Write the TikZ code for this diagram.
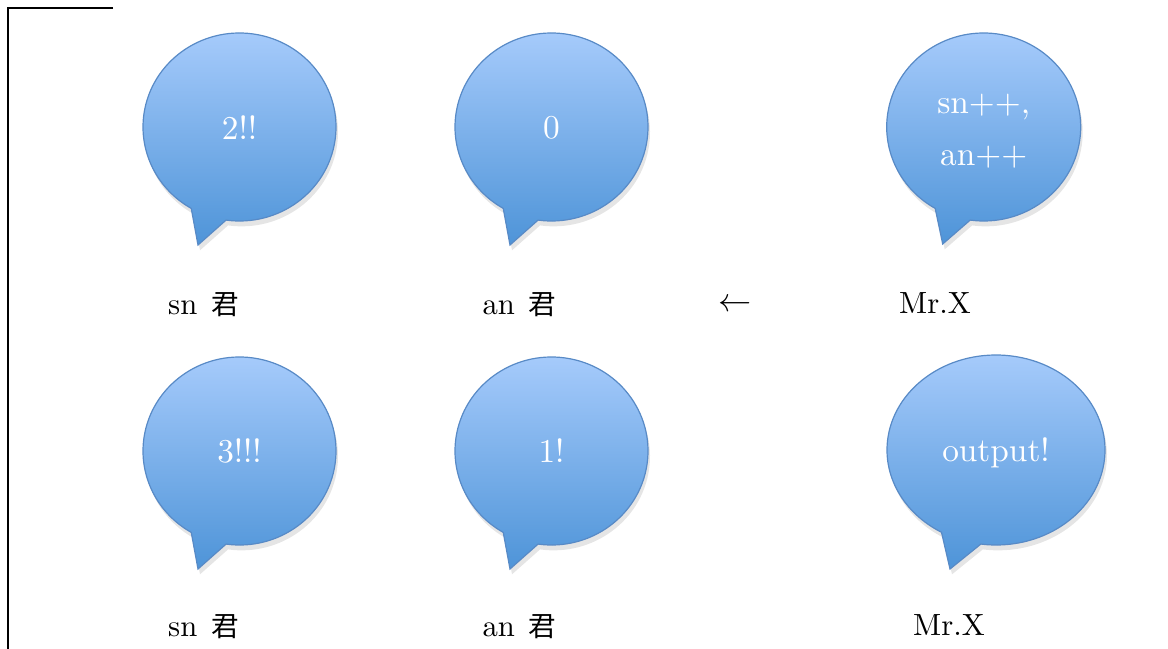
\documentclass[tikz,border=0pt]{standalone}
\usepackage{fontspec}
\setmainfont{lmroman10-regular}[Extension=.otf]
\newfontfamily\cjk{Noto Sans CJK JP}[Scale=0.9]
\definecolor{btop}{RGB}{168,204,252}
\definecolor{bbot}{RGB}{78,148,216}
\definecolor{bline}{RGB}{88,138,198}
\tikzset{
  bubblestyle/.style={top color=btop,bottom color=bbot,draw=bline,line width=0.9pt},
  bshadow/.style={fill=black,opacity=0.10},
  btext/.style={text=white,font=\fontsize{25}{39}\selectfont,align=center,inner sep=0pt},
  lbl/.style={text=black,font=\fontsize{23}{28}\selectfont,inner sep=0pt},
  frame/.style={draw=black,line width=1.3pt}
}
\newcommand\mybubble[6]{%
  \fill[bshadow,xshift=1.5pt,yshift=-4pt] (#1,#2) ++(262:#3 and #4)
    arc[start angle=262,end angle=600,x radius=#3,y radius=#4]
    -- ({#1+#5},{#2+#6}) -- cycle;
  \shadedraw[bubblestyle] (#1,#2) ++(262:#3 and #4)
    arc[start angle=262,end angle=600,x radius=#3,y radius=#4]
    -- ({#1+#5},{#2+#6}) -- cycle;}
\newcommand\kun{\hspace{0.45em}{\cjk 君}}
\begin{document}
\begin{tikzpicture}[x=0.75pt,y=0.75pt]
\useasboundingbox (0,0) rectangle (1168,-649);
% frame lines
\draw[frame] (113,-8) -- (8,-8) -- (8,-649);
% bubbles
\mybubble{239.5}{-127}{96.5}{94}{-41.5}{-118}
\mybubble{551.5}{-127}{96.5}{94}{-41.5}{-118}
\mybubble{983.7}{-127}{97}{94}{-41}{-117}
\mybubble{239.5}{-451}{96.5}{94}{-41.5}{-118}
\mybubble{551.5}{-451}{96.5}{94}{-41.5}{-118}
\mybubble{996}{-450}{109}{95}{-46}{-119}
% bubble texts
\node[btext] (t1) at (239.5,-128) {2!!};
\node[btext] (t2) at (551.5,-128) {0};
\node[btext] (t3) at (983.7,-131) {sn++,\\an++};
\node[btext] (t4) at (239.5,-451) {3!!!};
\node[btext] (t5) at (551.5,-451) {1!};
\node[btext] (t6) at (996,-453) {output!};
% labels
\node[lbl,anchor=base] (l1) at (203.5,-315) {sn\kun};
\node[lbl,anchor=base] (l2) at (519.5,-315) {an\kun};
\node[lbl] (arr) at (735,-305) {$\leftarrow$};
\node[lbl,anchor=base] (l3) at (935,-313) {Mr.X};
\node[lbl,anchor=base] (l4) at (203.5,-636) {sn\kun};
\node[lbl,anchor=base] (l5) at (519.5,-636) {an\kun};
\node[lbl,anchor=base] (l6) at (949,-635) {Mr.X};
\end{tikzpicture}
\end{document}
